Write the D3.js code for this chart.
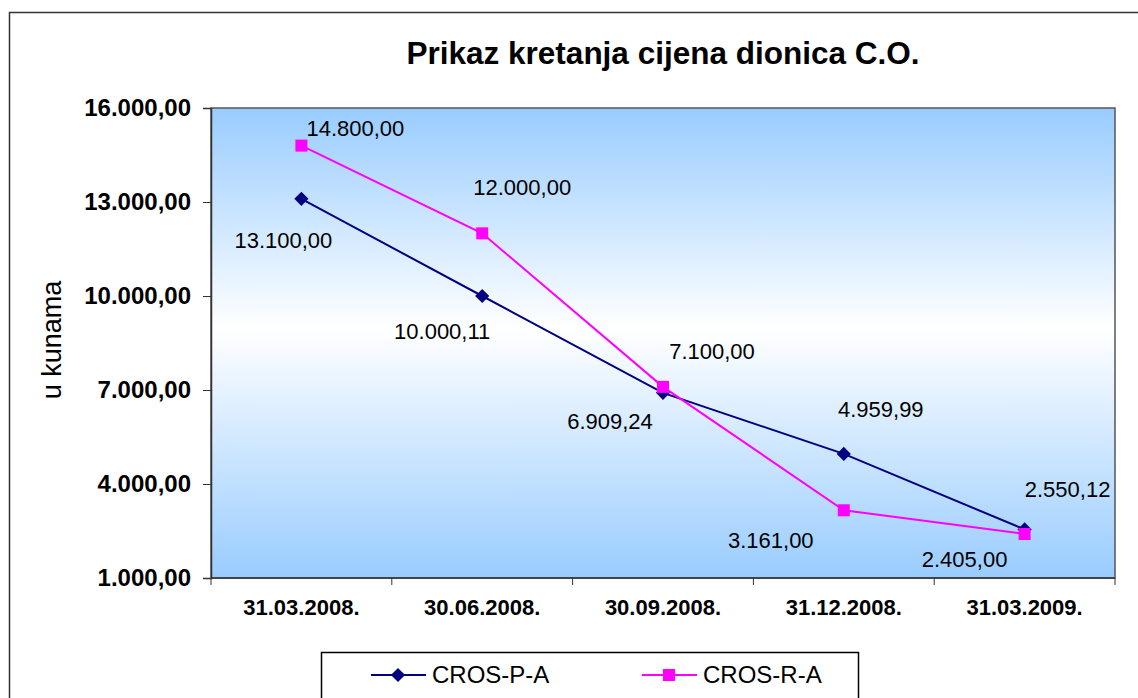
<!DOCTYPE html>
<html>
<head>
<meta charset="utf-8">
<script src="https://cdn.jsdelivr.net/npm/d3@7"></script>
<style>
  body { margin: 0; background: #fff; }
  svg { font-family: Arial, "Liberation Sans", sans-serif; }
</style>
</head>
<body>
<svg id="chart" width="1138" height="698"></svg>
<script>
var categories = ["31.03.2008.", "30.06.2008.", "30.09.2008.", "31.12.2008.", "31.03.2009."];
var crosPA = [13100.00, 10000.11, 6909.24, 4959.99, 2550.12];
var crosRA = [14800.00, 12000.00, 7100.00, 3161.00, 2405.00];
var yTicks = [1000, 4000, 7000, 10000, 13000, 16000];
var seriesNames = ["CROS-P-A", "CROS-R-A"];

// label nudges (px), set by hand like in the original sheet
var offsP = [[-18, 41], [-40, 35], [-53, 28], [37, -45], [43, -40]];
var offsR = [[54, -17], [40, -46], [49, -36], [-73, 30], [-60, 25]];

var svg = d3.select("#chart"),
    margin = {top: 108, right: 23, bottom: 120, left: 211},
    width = +svg.attr("width") - margin.left - margin.right,
    height = +svg.attr("height") - margin.top - margin.bottom;

var fmt = d3.formatLocale({decimal: ",", thousands: ".", grouping: [3], currency: ["", ""]}).format(",.2f");

// outer chart border
svg.append("rect")
    .attr("x", 9.5).attr("y", 12.5)
    .attr("width", 1140).attr("height", 700)
    .attr("fill", "none")
    .attr("stroke", "#333")
    .attr("stroke-width", 1.5);

svg.append("text")
    .attr("x", 663)
    .attr("y", 64)
    .attr("text-anchor", "middle")
    .attr("font-size", 31.5)
    .attr("font-weight", "bold")
    .text("Prikaz kretanja cijena dionica C.O.");

svg.append("text")
    .attr("transform", "translate(52,340) rotate(-90)")
    .attr("text-anchor", "middle")
    .attr("dy", "0.35em")
    .attr("font-size", 27)
    .text("u kunama");

var grad = svg.append("defs").append("linearGradient")
    .attr("id", "bg")
    .attr("x1", 0).attr("y1", 0).attr("x2", 0).attr("y2", 1);
grad.append("stop").attr("offset", "0%").attr("stop-color", "#99ccff");
grad.append("stop").attr("offset", "47%").attr("stop-color", "#ffffff");
grad.append("stop").attr("offset", "100%").attr("stop-color", "#99ccff");

var x = d3.scaleBand()
    .domain(categories)
    .range([0, width]);

var y = d3.scaleLinear()
    .domain([1000, 16000])
    .range([height, 0]);

var g = svg.append("g")
    .attr("transform", "translate(" + margin.left + "," + margin.top + ")");

g.append("rect")
    .attr("width", width)
    .attr("height", height)
    .attr("fill", "url(#bg)")
    .attr("stroke", "#555")
    .attr("stroke-width", 1.5);

var yAxis = g.append("g")
    .call(d3.axisLeft(y).tickValues(yTicks).tickFormat(fmt).tickSize(8).tickPadding(12));
yAxis.select(".domain").attr("stroke", "#333").attr("stroke-width", 1.5);
yAxis.selectAll(".tick line").attr("stroke", "#333");
yAxis.selectAll("text")
    .attr("font-size", 24)
    .attr("font-weight", "bold")
    .attr("fill", "#000")
    .attr("font-family", "Arial, 'Liberation Sans', sans-serif");

// category separators on x axis
var xAxis = g.append("g")
    .attr("transform", "translate(0," + height + ")");
xAxis.append("line")
    .attr("x1", 0).attr("x2", width)
    .attr("stroke", "#333").attr("stroke-width", 1.5);
xAxis.selectAll(".sep")
  .data(categories.concat([null]))
  .enter().append("line")
    .attr("class", "sep")
    .attr("x1", function(d, i) { return i * x.step(); })
    .attr("x2", function(d, i) { return i * x.step(); })
    .attr("y1", 0).attr("y2", 7)
    .attr("stroke", "#333");
xAxis.selectAll(".lbl")
  .data(categories)
  .enter().append("text")
    .attr("class", "lbl")
    .attr("x", function(d) { return x(d) + x.bandwidth() / 2; })
    .attr("y", 37)
    .attr("text-anchor", "middle")
    .attr("font-size", 22)
    .attr("font-weight", "bold")
    .text(function(d) { return d; });

var line = d3.line()
    .x(function(d, i) { return x(categories[i]) + x.bandwidth() / 2; })
    .y(function(d) { return y(d); });

var diamond = d3.symbol().type(d3.symbolSquare).size(100);
var square = d3.symbol().type(d3.symbolSquare).size(144);

function drawSeries(vals, color, offs, sym, rot) {
  g.append("path")
    .datum(vals)
    .attr("fill", "none")
    .attr("stroke", color)
    .attr("stroke-width", 2)
    .attr("d", line);
  g.selectAll(null)
    .data(vals)
    .enter().append("path")
      .attr("d", sym)
      .attr("transform", function(d, i) {
        var cx = x(categories[i]) + x.bandwidth() / 2;
        return "translate(" + cx + "," + y(d) + ") rotate(" + rot + ")";
      })
      .attr("fill", color);
  g.selectAll(null)
    .data(vals)
    .enter().append("text")
      .attr("x", function(d, i) { return x(categories[i]) + x.bandwidth() / 2 + offs[i][0]; })
      .attr("y", function(d, i) { return y(d) + offs[i][1]; })
      .attr("dy", "0.35em")
      .attr("text-anchor", "middle")
      .attr("font-size", 22)
      .attr("fill", "#000")
      .text(function(d) { return fmt(d); });
}

drawSeries(crosPA, "#000080", offsP, diamond, 45);
drawSeries(crosRA, "#ff00ff", offsR, square, 0);

// legend
var legend = svg.append("g");
legend.append("rect")
    .attr("x", 321.5).attr("y", 652.5)
    .attr("width", 537).attr("height", 50)
    .attr("fill", "#fff")
    .attr("stroke", "#000")
    .attr("stroke-width", 1.5);

var legendItems = [
  {name: seriesNames[0], color: "#000080", sym: diamond, rot: 45, x0: 371},
  {name: seriesNames[1], color: "#ff00ff", sym: square, rot: 0, x0: 642}
];
var li = legend.selectAll(".li")
  .data(legendItems)
  .enter().append("g")
    .attr("class", "li")
    .attr("transform", function(d) { return "translate(" + d.x0 + ",675)"; });
li.append("line")
    .attr("x1", 0).attr("x2", 55)
    .attr("stroke", function(d) { return d.color; })
    .attr("stroke-width", 2);
li.append("path")
    .attr("d", function(d) { return d.sym(); })
    .attr("transform", function(d) { return "translate(27,0) rotate(" + d.rot + ")"; })
    .attr("fill", function(d) { return d.color; });
li.append("text")
    .attr("x", 61)
    .attr("dy", "0.35em")
    .attr("font-size", 24)
    .text(function(d) { return d.name; });
</script>
</body>
</html>
